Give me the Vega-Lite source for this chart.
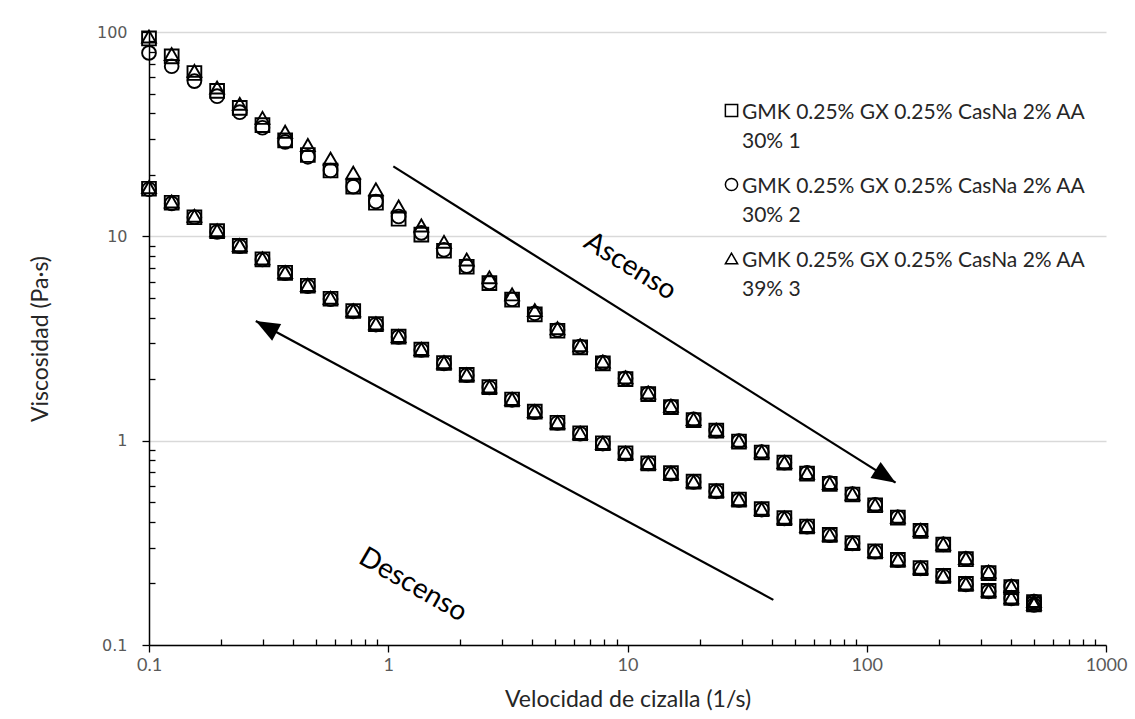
{
  "$schema": "https://vega.github.io/schema/vega-lite/v6.json",
  "width": 957,
  "height": 613,
  "autosize": {"type": "none"},
  "padding": {"left": 149, "top": 32, "right": 29, "bottom": 74},
  "background": "white",
  "config": {
    "view": {"stroke": null},
    "font": "Lato",
    "style": {"guide-label": {"lineHeight": 29, "dy": -9}}
  },
  "datasets": {
    "series": [
      {"key": "s1", "serie": "GMK 0.25% GX 0.25% CasNa 2% AA 30% 1"},
      {"key": "s2", "serie": "GMK 0.25% GX 0.25% CasNa 2% AA 30% 2"},
      {"key": "s3", "serie": "GMK 0.25% GX 0.25% CasNa 2% AA 39%  3"}
    ],
    "visc": [
      {"barrido": "Ascenso", "x": 0.1, "s1": 93, "s2": 79, "s3": 95},
      {"barrido": "Ascenso", "x": 0.1244, "s1": 76, "s2": 68, "s3": 78},
      {"barrido": "Ascenso", "x": 0.1548, "s1": 63, "s2": 57.5, "s3": 64.5},
      {"barrido": "Ascenso", "x": 0.1926, "s1": 51.5, "s2": 48.5, "s3": 53.5},
      {"barrido": "Ascenso", "x": 0.2395, "s1": 42.5, "s2": 40.5, "s3": 44.5},
      {"barrido": "Ascenso", "x": 0.298, "s1": 35, "s2": 34, "s3": 38},
      {"barrido": "Ascenso", "x": 0.3707, "s1": 29.5, "s2": 29, "s3": 32.5},
      {"barrido": "Ascenso", "x": 0.4612, "s1": 25, "s2": 24.5, "s3": 28},
      {"barrido": "Ascenso", "x": 0.5738, "s1": 21, "s2": 21, "s3": 24},
      {"barrido": "Ascenso", "x": 0.7139, "s1": 17.5, "s2": 17.5, "s3": 20.5},
      {"barrido": "Ascenso", "x": 0.8882, "s1": 14.6, "s2": 14.8, "s3": 17},
      {"barrido": "Ascenso", "x": 1.105, "s1": 12.2, "s2": 12.5, "s3": 14},
      {"barrido": "Ascenso", "x": 1.375, "s1": 10.2, "s2": 10.4, "s3": 11.3},
      {"barrido": "Ascenso", "x": 1.71, "s1": 8.5, "s2": 8.6, "s3": 9.4},
      {"barrido": "Ascenso", "x": 2.128, "s1": 7.1, "s2": 7.15, "s3": 7.7},
      {"barrido": "Ascenso", "x": 2.647, "s1": 5.9, "s2": 5.95, "s3": 6.3},
      {"barrido": "Ascenso", "x": 3.293, "s1": 4.9, "s2": 4.92, "s3": 5.2},
      {"barrido": "Ascenso", "x": 4.097, "s1": 4.15, "s2": 4.2, "s3": 4.35},
      {"barrido": "Ascenso", "x": 5.097, "s1": 3.45, "s2": 3.48, "s3": 3.55},
      {"barrido": "Ascenso", "x": 6.341, "s1": 2.86, "s2": 2.89, "s3": 2.93},
      {"barrido": "Ascenso", "x": 7.889, "s1": 2.39, "s2": 2.41, "s3": 2.44},
      {"barrido": "Ascenso", "x": 9.812, "s1": 2.0, "s2": 2.02, "s3": 2.04},
      {"barrido": "Ascenso", "x": 12.21, "s1": 1.69, "s2": 1.7, "s3": 1.72},
      {"barrido": "Ascenso", "x": 15.19, "s1": 1.46, "s2": 1.47, "s3": 1.48},
      {"barrido": "Ascenso", "x": 18.89, "s1": 1.26, "s2": 1.27, "s3": 1.275},
      {"barrido": "Ascenso", "x": 23.5, "s1": 1.12, "s2": 1.12, "s3": 1.13},
      {"barrido": "Ascenso", "x": 29.24, "s1": 0.99, "s2": 0.995, "s3": 1.0},
      {"barrido": "Ascenso", "x": 36.38, "s1": 0.875, "s2": 0.88, "s3": 0.885},
      {"barrido": "Ascenso", "x": 45.26, "s1": 0.78, "s2": 0.78, "s3": 0.785},
      {"barrido": "Ascenso", "x": 56.3, "s1": 0.69, "s2": 0.695, "s3": 0.695},
      {"barrido": "Ascenso", "x": 70.04, "s1": 0.615, "s2": 0.62, "s3": 0.62},
      {"barrido": "Ascenso", "x": 87.15, "s1": 0.545, "s2": 0.547, "s3": 0.55},
      {"barrido": "Ascenso", "x": 108.4, "s1": 0.483, "s2": 0.485, "s3": 0.487},
      {"barrido": "Ascenso", "x": 134.9, "s1": 0.42, "s2": 0.422, "s3": 0.424},
      {"barrido": "Ascenso", "x": 167.8, "s1": 0.362, "s2": 0.363, "s3": 0.365},
      {"barrido": "Ascenso", "x": 208.8, "s1": 0.31, "s2": 0.311, "s3": 0.313},
      {"barrido": "Ascenso", "x": 259.7, "s1": 0.263, "s2": 0.264, "s3": 0.266},
      {"barrido": "Ascenso", "x": 323.1, "s1": 0.225, "s2": 0.226, "s3": 0.228},
      {"barrido": "Ascenso", "x": 401.9, "s1": 0.192, "s2": 0.193, "s3": 0.194},
      {"barrido": "Ascenso", "x": 500, "s1": 0.162, "s2": 0.163, "s3": 0.164},
      {"barrido": "Descenso", "x": 0.1, "s1": 17.1, "s2": 17.0, "s3": 17.4},
      {"barrido": "Descenso", "x": 0.1244, "s1": 14.6, "s2": 14.5, "s3": 14.8},
      {"barrido": "Descenso", "x": 0.1548, "s1": 12.4, "s2": 12.4, "s3": 12.6},
      {"barrido": "Descenso", "x": 0.1926, "s1": 10.6, "s2": 10.5, "s3": 10.7},
      {"barrido": "Descenso", "x": 0.2395, "s1": 8.98, "s2": 8.95, "s3": 9.05},
      {"barrido": "Descenso", "x": 0.298, "s1": 7.72, "s2": 7.7, "s3": 7.8},
      {"barrido": "Descenso", "x": 0.3707, "s1": 6.63, "s2": 6.6, "s3": 6.68},
      {"barrido": "Descenso", "x": 0.4612, "s1": 5.73, "s2": 5.7, "s3": 5.78},
      {"barrido": "Descenso", "x": 0.5738, "s1": 4.95, "s2": 4.93, "s3": 5.0},
      {"barrido": "Descenso", "x": 0.7139, "s1": 4.31, "s2": 4.29, "s3": 4.34},
      {"barrido": "Descenso", "x": 0.8882, "s1": 3.72, "s2": 3.7, "s3": 3.75},
      {"barrido": "Descenso", "x": 1.105, "s1": 3.23, "s2": 3.22, "s3": 3.25},
      {"barrido": "Descenso", "x": 1.375, "s1": 2.79, "s2": 2.78, "s3": 2.81},
      {"barrido": "Descenso", "x": 1.71, "s1": 2.4, "s2": 2.39, "s3": 2.42},
      {"barrido": "Descenso", "x": 2.128, "s1": 2.1, "s2": 2.09, "s3": 2.11},
      {"barrido": "Descenso", "x": 2.647, "s1": 1.83, "s2": 1.82, "s3": 1.84},
      {"barrido": "Descenso", "x": 3.293, "s1": 1.59, "s2": 1.585, "s3": 1.6},
      {"barrido": "Descenso", "x": 4.097, "s1": 1.386, "s2": 1.38, "s3": 1.395},
      {"barrido": "Descenso", "x": 5.097, "s1": 1.224, "s2": 1.22, "s3": 1.23},
      {"barrido": "Descenso", "x": 6.341, "s1": 1.087, "s2": 1.083, "s3": 1.092},
      {"barrido": "Descenso", "x": 7.889, "s1": 0.971, "s2": 0.968, "s3": 0.975},
      {"barrido": "Descenso", "x": 9.812, "s1": 0.868, "s2": 0.865, "s3": 0.872},
      {"barrido": "Descenso", "x": 12.21, "s1": 0.775, "s2": 0.773, "s3": 0.778},
      {"barrido": "Descenso", "x": 15.19, "s1": 0.693, "s2": 0.69, "s3": 0.696},
      {"barrido": "Descenso", "x": 18.89, "s1": 0.63, "s2": 0.628, "s3": 0.632},
      {"barrido": "Descenso", "x": 23.5, "s1": 0.567, "s2": 0.565, "s3": 0.569},
      {"barrido": "Descenso", "x": 29.24, "s1": 0.515, "s2": 0.513, "s3": 0.517},
      {"barrido": "Descenso", "x": 36.38, "s1": 0.462, "s2": 0.46, "s3": 0.464},
      {"barrido": "Descenso", "x": 45.26, "s1": 0.418, "s2": 0.416, "s3": 0.42},
      {"barrido": "Descenso", "x": 56.3, "s1": 0.38, "s2": 0.379, "s3": 0.382},
      {"barrido": "Descenso", "x": 70.04, "s1": 0.346, "s2": 0.345, "s3": 0.347},
      {"barrido": "Descenso", "x": 87.15, "s1": 0.315, "s2": 0.314, "s3": 0.316},
      {"barrido": "Descenso", "x": 108.4, "s1": 0.287, "s2": 0.286, "s3": 0.288},
      {"barrido": "Descenso", "x": 134.9, "s1": 0.261, "s2": 0.26, "s3": 0.262},
      {"barrido": "Descenso", "x": 167.8, "s1": 0.238, "s2": 0.237, "s3": 0.239},
      {"barrido": "Descenso", "x": 208.8, "s1": 0.218, "s2": 0.217, "s3": 0.219},
      {"barrido": "Descenso", "x": 259.7, "s1": 0.199, "s2": 0.198, "s3": 0.2},
      {"barrido": "Descenso", "x": 323.1, "s1": 0.184, "s2": 0.183, "s3": 0.185},
      {"barrido": "Descenso", "x": 401.9, "s1": 0.17, "s2": 0.169, "s3": 0.171},
      {"barrido": "Descenso", "x": 500, "s1": 0.158, "s2": 0.157, "s3": 0.159}
    ],
    "flechas": [
      {"flecha": "Ascenso", "x": 1.05, "y": 22, "x2": 132, "y2": 0.623},
      {"flecha": "Descenso", "x": 40.7, "y": 0.1663, "x2": 0.2795, "y2": 3.85}
    ]
  },
  "layer": [
    {
      "data": {"name": "visc"},
      "transform": [
        {"fold": ["s1", "s2", "s3"], "as": ["key", "y"]},
        {"lookup": "key", "from": {"data": {"name": "series"}, "key": "key", "fields": ["serie"]}}
      ],
      "mark": {"type": "point", "filled": false, "strokeWidth": 1.9, "opacity": 1, "size": 190},
      "encoding": {
        "x": {
          "field": "x", "type": "quantitative",
          "scale": {"type": "log", "domain": [0.1, 1000], "nice": false},
          "title": "Velocidad de cizalla (1/s)",
          "axis": {
            "values": [0.1, 0.2, 0.3, 0.4, 0.5, 0.6, 0.7, 0.8, 0.9, 1, 2, 3, 4, 5, 6, 7, 8, 9, 10, 20, 30, 40, 50, 60, 70, 80, 90, 100, 200, 300, 400, 500, 600, 700, 800, 900, 1000],
            "labelExpr": "indexof([0.1, 1, 10, 100, 1000], datum.value) >= 0 ? format(datum.value, '~g') : ''",
            "grid": false,
            "domainColor": "#000000", "domainWidth": 1.5,
            "tickColor": "#000000", "tickWidth": 1.3,
            "tickSize": {"condition": {"test": "indexof([0.1, 1, 10, 100, 1000], datum.value) >= 0", "value": 7}, "value": -6},
            "labelFont": "Lato", "labelFontSize": 18, "labelColor": "#595959", "labelPadding": 13,
            "labelFlush": false, "labelOverlap": false,
            "titleFont": "Lato", "titleFontSize": 23, "titleFontWeight": "normal", "titleColor": "#262626", "titlePadding": 14
          }
        },
        "y": {
          "field": "y", "type": "quantitative",
          "scale": {"type": "log", "domain": [0.1, 100], "nice": false},
          "title": "Viscosidad (Pa·s)",
          "axis": {
            "values": [0.1, 0.2, 0.3, 0.4, 0.5, 0.6, 0.7, 0.8, 0.9, 1, 2, 3, 4, 5, 6, 7, 8, 9, 10, 20, 30, 40, 50, 60, 70, 80, 90, 100],
            "labelExpr": "indexof([0.1, 1, 10, 100], datum.value) >= 0 ? format(datum.value, '~g') : ''",
            "grid": true,
            "gridColor": "#d9d9d9", "gridWidth": 1.5,
            "gridOpacity": {"condition": {"test": "indexof([0.1, 1, 10, 100], datum.value) >= 0", "value": 1}, "value": 0},
            "domainColor": "#000000", "domainWidth": 1.5,
            "tickColor": "#000000", "tickWidth": 1.3,
            "tickSize": {"condition": {"test": "indexof([0.1, 1, 10, 100], datum.value) >= 0", "value": 7}, "value": -6},
            "labelFont": "DejaVu Sans", "labelFontSize": 16, "labelColor": "#595959", "labelPadding": 15,
            "labelOffset": 9,
            "labelFlush": false, "labelOverlap": false,
            "titleFont": "Lato", "titleFontSize": 23, "titleFontWeight": "normal", "titleColor": "#262626", "titlePadding": 44
          }
        },
        "shape": {
          "field": "serie", "type": "nominal",
          "scale": {
            "domain": ["GMK 0.25% GX 0.25% CasNa 2% AA 30% 1", "GMK 0.25% GX 0.25% CasNa 2% AA 30% 2", "GMK 0.25% GX 0.25% CasNa 2% AA 39%  3"],
            "range": ["square", "circle", "triangle-up"]
          },
          "legend": {
            "orient": "none", "legendX": 572, "legendY": 68, "title": null,
            "labelExpr": "[substring(datum.label, 0, 30), substring(datum.label, 31)]",
            "labelFont": "Lato", "labelFontSize": 21, "labelColor": "#262626", "labelLimit": 600,
            "labelBaseline": "top", "labelOffset": 0,
            "symbolSize": 150, "symbolStrokeWidth": 1.5, "symbolStrokeColor": "#000000",
            "rowPadding": 22
          }
        },
        "color": {"value": "#000000"}
      }
    },
    {
      "data": {"name": "flechas"},
      "mark": {"type": "rule", "color": "#000000", "strokeWidth": 2.2},
      "encoding": {
        "x": {"field": "x", "type": "quantitative"},
        "y": {"field": "y", "type": "quantitative"},
        "x2": {"field": "x2"},
        "y2": {"field": "y2"}
      }
    },
    {
      "data": {"name": "flechas"},
      "transform": [{"filter": "datum.flecha == 'Ascenso'"}],
      "mark": {"type": "point", "shape": "M0,0 L0.6,1.5 L-0.6,1.5 Z", "filled": true, "color": "#000000", "opacity": 1, "size": 1000, "angle": 122.3},
      "encoding": {
        "x": {"field": "x2", "type": "quantitative"},
        "y": {"field": "y2", "type": "quantitative"}
      }
    },
    {
      "data": {"name": "flechas"},
      "transform": [{"filter": "datum.flecha == 'Descenso'"}],
      "mark": {"type": "point", "shape": "M0,0 L0.6,1.5 L-0.6,1.5 Z", "filled": true, "color": "#000000", "opacity": 1, "size": 1000, "angle": 298.4},
      "encoding": {
        "x": {"field": "x2", "type": "quantitative"},
        "y": {"field": "y2", "type": "quantitative"}
      }
    },
    {
      "data": {"values": [{"texto": "Ascenso", "x": 10.24, "y": 7.11}]},
      "mark": {"type": "text", "font": "Lato", "fontSize": 28, "color": "#000000", "angle": 32, "align": "center", "baseline": "middle"},
      "encoding": {
        "x": {"field": "x", "type": "quantitative"},
        "y": {"field": "y", "type": "quantitative"},
        "text": {"field": "texto"}
      }
    },
    {
      "data": {"values": [{"texto": "Descenso", "x": 1.266, "y": 0.196}]},
      "mark": {"type": "text", "font": "Lato", "fontSize": 28, "color": "#000000", "angle": 30, "align": "center", "baseline": "middle"},
      "encoding": {
        "x": {"field": "x", "type": "quantitative"},
        "y": {"field": "y", "type": "quantitative"},
        "text": {"field": "texto"}
      }
    }
  ]
}
